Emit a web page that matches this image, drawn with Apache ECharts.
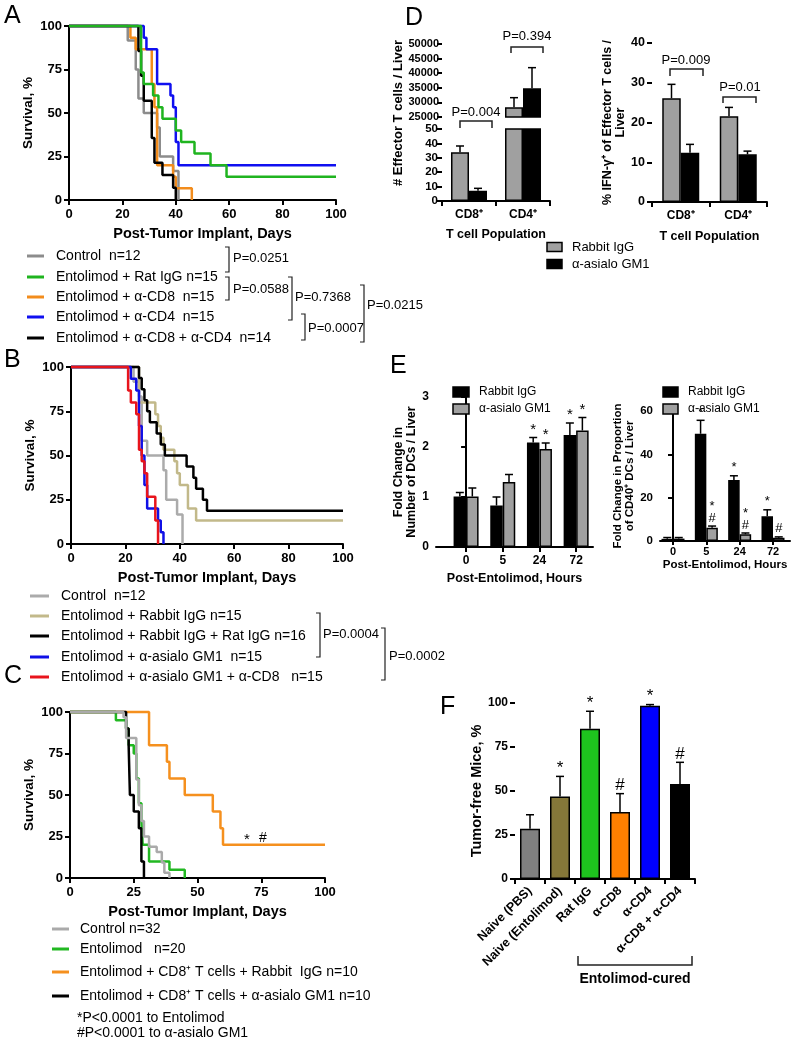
<!DOCTYPE html>
<html>
<head>
<meta charset="utf-8">
<script src="https://cdn.jsdelivr.net/npm/echarts@6/dist/echarts.min.js"></script>
<style>
  html, body { margin: 0; padding: 0; background: #fff; }
  #main { width: 792px; height: 1042px; }
</style>
</head>
<body>
<div id="main"></div>
<script>
// ---- data ----
// A: survival, step points [day, %]
var A_control = [[0,100],[22,91.7],[25,75],[26,58.3],[28,50],[33,41.7],[34,25],[39,16.7],[41,0]];
var A_ratIgG = [[0,100],[27,73.3],[28,66.7],[31.5,60],[33.5,53.3],[35,46.7],[40,40],[42,33.3],[47,26.7],[53,20],[59,13.3],[100,13.3]];
var A_cd8 = [[0,100],[23,93.3],[25,86.7],[31,66.7],[32,53.3],[33,20],[39,13.3],[40,6.7],[46,0]];
var A_cd4 = [[0,100],[28,93.3],[29,86.7],[33,66.7],[38,60],[39,53.3],[40,33.3],[41,20],[100,20]];
var A_cd8cd4 = [[0,100],[26,85.7],[27,71.4],[28,57.1],[31,35.7],[32,21.4],[35,14.3],[39,7.1],[40,0]];

// B
var B_control = [[0,100],[23,91.7],[25,83.3],[26,58.3],[28,50],[34,41.7],[35,25],[39,16.7],[41,0]];
var B_rabbit = [[0,100],[25,80],[31,73.3],[32,66.7],[33,60],[34,53.3],[38,46.7],[39,40],[40,33.3],[43,20],[46,13.3],[100,13.3]];
var B_rabbitRat = [[0,100],[25,93.75],[26,87.5],[27,81.25],[28,75],[29,68.75],[31.5,62.5],[33,56.25],[34.5,50],[42.5,43.75],[45,37.5],[46,31.25],[48.5,25],[50,18.75],[100,18.75]];
var B_asialo = [[0,100],[22,93.3],[24,86.7],[25,66.7],[26,50],[27,33.3],[28,20],[32,13.3],[33,6.7],[34,0]];
var B_asialoCd8 = [[0,100],[21,86.7],[22,80],[24,73.3],[25,53.3],[26,46.7],[27,40],[28,26.7],[31,13.3],[32,0]];

// C
var C_control = [[0,100],[21,96.9],[22,84.4],[26,59.4],[27,43.8],[28,34.4],[29,25],[31,18.8],[34,15.6],[36,9.4],[37,3.1],[39,0]];
var C_entolimod = [[0,100],[18,95],[22,90],[23,80],[25,75],[26,60],[27,45],[28,35],[28.5,20],[31,10],[39,5],[45,0]];
var C_rabbit = [[0,100],[31,80],[38,70],[39,60],[45,50],[56,40],[59,30],[60,20],[100,20]];
var C_asialo = [[0,100],[22,90],[23,80],[23.5,50],[25,40],[27,30],[28,10],[29,0]];

// D
var dCats = ['CD8⁺', 'CD4⁺'];
var dCountRabbit = [33.8, 28330];
var dCountRabbitErr = [38.2, 31620];
var dCountAsialo = [7.2, 34840];
var dCountAsialoErr = [8.8, 41900];
var dIfnRabbit = [26.1, 21.6];
var dIfnRabbitErr = [29.6, 23.8];
var dIfnAsialo = [12.4, 12.0];
var dIfnAsialoErr = [14.5, 12.8];

// E
var eCats = ['0', '5', '24', '72'];
var eDcRabbit = [1.01, 0.83, 2.09, 2.24];
var eDcRabbitErr = [1.09, 1.0, 2.19, 2.48];
var eDcAsialo = [1.01, 1.3, 1.96, 2.33];
var eDcAsialoErr = [1.18, 1.45, 2.08, 2.59];
var eDcRabbitMark = ['', '', '*', '*'];
var eDcAsialoMark = ['', '', '*', '*'];
var eCd40Rabbit = [1.0, 49.5, 28.1, 11.4];
var eCd40RabbitErr = [1.6, 55.7, 30.1, 14.4];
var eCd40Asialo = [1.1, 6.1, 3.1, 1.5];
var eCd40AsialoErr = [1.6, 6.9, 3.7, 1.9];
var eCd40RabbitMark = ['', '*', '*', '*'];
var eCd40AsialoMark = ['', '*\n#', '*\n#', '#'];

// F
var fCats = ['Naive (PBS)', 'Naive (Entolimod)', 'Rat IgG', 'α-CD8', 'α-CD4', 'α-CD8 + α-CD4'];
var fVals = [28.6, 46.9, 85.4, 38.1, 98.5, 54.0];
var fErr = [36.5, 58.3, 95.3, 48.5, 99.1, 66.3];
var fMark = ['', '*', '*', '#', '*', '#'];

// ---- styles ----
var FONT = 'Liberation Sans, Arial, sans-serif';
var fColors = ['#808080', '#857739', '#1ec41e', '#ff8000', '#0000ff', '#000000'];

var myChart = echarts.init(document.getElementById('main'), null, {renderer: 'canvas'});

function axLine() { return {lineStyle: {color: '#000', width: 2}}; }
function axTick(show) { return {show: show !== false, length: 5, lineStyle: {color: '#000', width: 2}}; }
function axLabel(fs, extra) {
    var o = {color: '#000', fontWeight: 'bold', fontSize: fs, fontFamily: FONT, margin: 8};
    for (var k in extra) o[k] = extra[k];
    return o;
}
function nameStyle(fs) { return {color: '#000', fontWeight: 'bold', fontSize: fs, fontFamily: FONT}; }

function survX(g, interval) {
    return {type: 'value', gridIndex: g, min: 0, max: 100, interval: interval,
        axisLine: axLine(), axisTick: axTick(), axisLabel: axLabel(13), splitLine: {show: false},
        name: 'Post-Tumor Implant, Days', nameLocation: 'middle', nameGap: 26, nameTextStyle: nameStyle(14.5)};
}
function survY(g) {
    return {type: 'value', gridIndex: g, min: 0, max: 100, interval: 25,
        axisLine: {show: true, lineStyle: {color: '#000', width: 2}}, axisTick: axTick(), axisLabel: axLabel(13, {margin: 7}),
        splitLine: {show: false},
        name: 'Survival, %', nameLocation: 'middle', nameGap: 34, nameTextStyle: nameStyle(13.5)};
}
function surv(g, data, color) {
    return {type: 'line', xAxisIndex: g, yAxisIndex: g, step: 'end', data: data, symbol: 'none',
        clip: false, lineStyle: {color: color, width: 2.5}, animation: false};
}
function bars(g, data, color, w) {
    return {type: 'bar', xAxisIndex: g, yAxisIndex: g, data: data, barWidth: w, barGap: '0%',
        itemStyle: {color: color, borderColor: '#000', borderWidth: 1.5}, animation: false};
}
function errBars(g, xs, vals, errs, offset, marks, markSize, clip) {
    var data = vals.map(function (v, i) { return [xs[i], v, errs[i]]; });
    return {type: 'custom', xAxisIndex: g, yAxisIndex: g, data: data, clip: !!clip, z: 5, animation: false,
        renderItem: function (params, api) {
            var p0 = api.coord([api.value(0), api.value(1)]);
            var p1 = api.coord([api.value(0), api.value(2)]);
            var cx = p0[0] + offset;
            var ch = [
                {type: 'line', shape: {x1: cx, y1: p0[1], x2: cx, y2: p1[1]}, style: {stroke: '#000', lineWidth: 1.5}},
                {type: 'line', shape: {x1: cx - 4, y1: p1[1], x2: cx + 4, y2: p1[1]}, style: {stroke: '#000', lineWidth: 1.5}}
            ];
            var m = marks ? marks[params.dataIndex] : '';
            if (m) {
                ch.push({type: 'text', x: cx, y: p1[1] - 2, style: {text: m, fill: '#000',
                    font: (markSize || 14) + 'px ' + FONT, align: 'center', verticalAlign: 'bottom',
                    textAlign: 'center', textVerticalAlign: 'bottom', lineHeight: 12}});
            }
            return {type: 'group', children: ch};
        }};
}

// ---- graphic helpers ----
function T(x, y, text, font, align, rot) {
    return {type: 'text', x: x, y: y, rotation: rot || 0, z: 10,
        style: {text: text, fill: '#000', font: font, align: align || 'left', verticalAlign: 'middle',
            textAlign: align || 'left', textVerticalAlign: 'middle'}};
}
function PL(points, w) {
    return {type: 'polyline', z: 10, shape: {points: points}, style: {stroke: '#222', lineWidth: w || 1.2, fill: null}};
}
function bracketR(x, y1, y2) { return PL([[x - 4, y1], [x, y1], [x, y2], [x - 4, y2]]); }
function bracketT(x1, x2, y, h) { return PL([[x1, y + h], [x1, y], [x2, y], [x2, y + h]], 1.5); }
function legendLines(x1, x2, tx, ys, colors, texts, fs) {
    var out = [];
    ys.forEach(function (y, i) {
        out.push({type: 'line', z: 10, shape: {x1: x1, y1: y, x2: x2, y2: y}, style: {stroke: colors[i], lineWidth: 3}});
        out.push(T(tx, y, texts[i], fs + 'px ' + FONT));
    });
    return out;
}
function legendBox(x, y, w, h, color, text, fs) {
    return [{type: 'rect', z: 10, shape: {x: x, y: y - h / 2, width: w, height: h},
        style: {fill: color, stroke: '#000', lineWidth: 1.5}},
        T(x + w + 10, y, text, fs + 'px ' + FONT)];
}

var colA = ['#8c8c8c', '#1fb41f', '#f28c1c', '#1010f0', '#000000'];
var colB = ['#ababab', '#c2b98a', '#000000', '#1010e6', '#e8141c'];
var colC = ['#aaaaaa', '#22b822', '#f5901e', '#000000'];

var g = [];
var big = '25px ' + FONT;
g.push(T(4, 16, 'A', big), T(4, 360, 'B', big), T(4, 676, 'C', big));
g.push(T(405, 18, 'D', big), T(390, 366, 'E', big), T(440, 707, 'F', big));

g = g.concat(legendLines(27, 44, 56, [256, 277, 297, 317, 338], colA,
    ['Control  n=12', 'Entolimod + Rat IgG n=15', 'Entolimod + α-CD8  n=15', 'Entolimod + α-CD4  n=15',
     'Entolimod + α-CD8 + α-CD4  n=14'], 14));
var pf = '13px ' + FONT;
g.push(bracketR(229, 247, 272), T(233, 258, 'P=0.0251', pf));
g.push(bracketR(229, 277, 300), T(233, 289, 'P=0.0588', pf));
g.push(bracketR(292, 277, 320), T(295, 297, 'P=0.7368', pf));
g.push(bracketR(305, 314, 340), T(308, 328, 'P=0.0007', pf));
g.push(bracketR(364, 285, 342), T(367, 305, 'P=0.0215', pf));

g = g.concat(legendLines(30, 49, 61, [596, 616, 636, 657, 677], colB,
    ['Control  n=12', 'Entolimod + Rabbit IgG n=15', 'Entolimod + Rabbit IgG + Rat IgG n=16',
     'Entolimod + α-asialo GM1  n=15', 'Entolimod + α-asialo GM1 + α-CD8   n=15'], 14));
g.push(bracketR(320, 613, 657), T(323, 634, 'P=0.0004', pf));
g.push(bracketR(385, 628, 680), T(389, 656, 'P=0.0002', pf));

g = g.concat(legendLines(52, 69, 80, [929, 949, 972, 996], colC,
    ['Control n=32', 'Entolimod   n=20', 'Entolimod + CD8⁺ T cells + Rabbit  IgG n=10',
     'Entolimod + CD8⁺ T cells + α-asialo GM1 n=10'], 14));
g.push(T(77, 1018, '*P<0.0001 to Entolimod', '14px ' + FONT));
g.push(T(77, 1033, '#P<0.0001 to α-asialo GM1', '14px ' + FONT));
g.push(T(247, 840, '*', '15px ' + FONT, 'center'), T(263, 838, '#', '14px ' + FONT, 'center'));

// D annotations
g.push(T(398, 113, '# Effector T cells / Liver', 'bold 13px ' + FONT, 'center', Math.PI / 2));
g.push(bracketT(460, 492, 121, 7), T(476, 112, 'P=0.004', pf, 'center'));
g.push(bracketT(511, 543, 47, 6), T(527, 36, 'P=0.394', pf, 'center'));
g.push(bracketT(670, 703, 69, 7), T(686, 60, 'P=0.009', pf, 'center'));
g.push(bracketT(723, 756, 97, 6), T(740, 87, 'P=0.01', pf, 'center'));
g.push(T(496, 235, 'T cell Population', 'bold 12.5px ' + FONT, 'center'));
g = g.concat(legendBox(547, 247, 15, 9, '#a0a0a0', 'Rabbit IgG', 13));
g = g.concat(legendBox(547, 264, 15, 9, '#000000', 'α-asialo GM1', 13));

// E legends
g = g.concat(legendBox(453, 392, 16, 10, '#000000', 'Rabbit IgG', 12));
g = g.concat(legendBox(453, 409, 16, 10, '#a0a0a0', 'α-asialo GM1', 12));
g = g.concat(legendBox(663, 392, 15, 10, '#000000', 'Rabbit IgG', 12));
g = g.concat(legendBox(663, 409, 15, 10, '#a0a0a0', 'α-asialo GM1', 12));

// F bracket
g.push(PL([[578, 956], [578, 965], [692, 965], [692, 956]], 1.5));
g.push(T(635, 979, 'Entolimod-cured', 'bold 14px ' + FONT, 'center'));

function plain(v) { return String(v); }

var xAxes = [
    survX(0, 20), survX(1, 20), survX(2, 25),
    {type: 'category', gridIndex: 3, data: dCats, show: false},
    {type: 'category', gridIndex: 4, data: dCats, axisLine: axLine(), axisTick: axTick(),
        axisLabel: axLabel(12, {margin: 8})},
    {type: 'category', gridIndex: 5, data: dCats, axisLine: axLine(), axisTick: axTick(),
        axisLabel: axLabel(12, {margin: 8}),
        name: 'T cell Population', nameLocation: 'middle', nameGap: 28, nameTextStyle: nameStyle(12.5)},
    {type: 'value', gridIndex: 6, min: -0.82, max: 3.46, axisLine: axLine(), splitLine: {show: false},
        axisTick: {length: 5, lineStyle: {color: '#000', width: 2}, customValues: [0, 1, 2, 3]},
        axisLabel: axLabel(12, {customValues: [0, 1, 2, 3], formatter: function (v) { return eCats[Math.round(v)]; }}),
        name: 'Post-Entolimod, Hours', nameLocation: 'middle', nameGap: 25, nameTextStyle: nameStyle(12.5)},
    {type: 'value', gridIndex: 7, min: -0.39, max: 3.51, axisLine: axLine(), splitLine: {show: false},
        axisTick: {length: 4, lineStyle: {color: '#000', width: 2}, customValues: [0, 1, 2, 3]},
        axisLabel: axLabel(11, {margin: 5, customValues: [0, 1, 2, 3], formatter: function (v) { return eCats[Math.round(v)]; }}),
        name: 'Post-Entolimod, Hours', nameLocation: 'middle', nameGap: 18, nameTextStyle: nameStyle(11.5)},
    {type: 'category', gridIndex: 8, data: fCats, axisLine: axLine(), axisTick: axTick(),
        axisLabel: axLabel(12.5, {rotate: 45, margin: 10, interval: 0})}
];
var yAxes = [
    survY(0), survY(1), survY(2),
    {type: 'value', gridIndex: 3, min: 25000, max: 50000, interval: 5000, axisLine: axLine(), axisTick: axTick(),
        axisLabel: axLabel(11, {margin: 3, formatter: plain}), splitLine: {show: false}},
    {type: 'value', gridIndex: 4, min: 0, max: 50, interval: 10, axisLine: axLine(), axisTick: axTick(),
        axisLabel: axLabel(11.5, {margin: 4}), splitLine: {show: false}},
    {type: 'value', gridIndex: 5, min: 0, max: 40, interval: 10, axisLine: axLine(), axisTick: axTick(),
        axisLabel: axLabel(12.5, {margin: 7}), splitLine: {show: false},
        name: '% IFN-γ⁺ of Effector T cells /\nLiver', nameLocation: 'middle', nameGap: 23,
        nameTextStyle: nameStyle(12.5)},
    {type: 'value', gridIndex: 6, min: 0, max: 3, interval: 1, axisLine: axLine(), axisTick: axTick(),
        axisLabel: axLabel(12, {margin: 7}), splitLine: {show: false},
        name: 'Fold Change in\nNumber of DCs / Liver', nameLocation: 'middle', nameGap: 14,
        nameTextStyle: nameStyle(12.5)},
    {type: 'value', gridIndex: 7, min: 0, max: 60, interval: 20, axisLine: axLine(), axisTick: axTick(),
        axisLabel: axLabel(11.5, {margin: 7}), splitLine: {show: false},
        name: 'Fold Change in Proportion\nof CD40⁺ DCs / Liver', nameLocation: 'middle', nameGap: 24,
        nameTextStyle: nameStyle(11.5)},
    {type: 'value', gridIndex: 8, min: 0, max: 100, interval: 25, axisLine: axLine(), axisTick: axTick(),
        axisLabel: axLabel(12, {margin: 7}), splitLine: {show: false},
        name: 'Tumor-free Mice, %', nameLocation: 'middle', nameGap: 30, nameTextStyle: nameStyle(14.5)}
];

var idx = [0, 1, 2, 3];
var series = [
    surv(0, A_control, colA[0]), surv(0, A_cd8, colA[2]), surv(0, A_cd4, colA[3]), surv(0, A_cd8cd4, colA[4]),
    surv(0, A_ratIgG, colA[1]),
    surv(1, B_control, colB[0]), surv(1, B_rabbit, colB[1]), surv(1, B_rabbitRat, colB[2]), surv(1, B_asialo, colB[3]),
    surv(1, B_asialoCd8, colB[4]),
    surv(2, C_rabbit, colC[2]), surv(2, C_entolimod, colC[1]), surv(2, C_asialo, colC[3]), surv(2, C_control, colC[0]),
    // D left, broken axis drawn as two grids
    bars(3, dCountRabbit, '#a0a0a0', 18), bars(3, dCountAsialo, '#000000', 18),
    errBars(3, [0, 1], dCountRabbit, dCountRabbitErr, -9, null, 0, true),
    errBars(3, [0, 1], dCountAsialo, dCountAsialoErr, 9, null, 0, true),
    bars(4, dCountRabbit, '#a0a0a0', 18), bars(4, dCountAsialo, '#000000', 18),
    errBars(4, [0, 1], dCountRabbit, dCountRabbitErr, -9, null, 0, true),
    errBars(4, [0, 1], dCountAsialo, dCountAsialoErr, 9, null, 0, true),
    // D right
    bars(5, dIfnRabbit, '#a0a0a0', 18.5), bars(5, dIfnAsialo, '#000000', 18.5),
    errBars(5, [0, 1], dIfnRabbit, dIfnRabbitErr, -9.25), errBars(5, [0, 1], dIfnAsialo, dIfnAsialoErr, 9.25),
    // E left
    bars(6, eDcRabbit.map(function (v, i) { return [i, v]; }), '#000000', 12.5),
    bars(6, eDcAsialo.map(function (v, i) { return [i, v]; }), '#a0a0a0', 12.5),
    errBars(6, idx, eDcRabbit, eDcRabbitErr, -6.25, eDcRabbitMark, 15),
    errBars(6, idx, eDcAsialo, eDcAsialoErr, 6.25, eDcAsialoMark, 15),
    // E right
    bars(7, eCd40Rabbit.map(function (v, i) { return [i, v]; }), '#000000', 11.5),
    bars(7, eCd40Asialo.map(function (v, i) { return [i, v]; }), '#a0a0a0', 11.5),
    errBars(7, idx, eCd40Rabbit, eCd40RabbitErr, -5.75, eCd40RabbitMark, 13),
    errBars(7, idx, eCd40Asialo, eCd40AsialoErr, 5.75, eCd40AsialoMark, 13),
    // F
    {type: 'bar', xAxisIndex: 8, yAxisIndex: 8, barWidth: 20, animation: false,
        data: fVals.map(function (v, i) { return {value: v, itemStyle: {color: fColors[i]}}; }),
        itemStyle: {borderColor: '#000', borderWidth: 1.5}},
    errBars(8, [0, 1, 2, 3, 4, 5], fVals, fErr, 0, fMark, 17)
];

var option = {
    backgroundColor: '#fff',
    animation: false,
    textStyle: {fontFamily: FONT},
    grid: [
        {left: 69, top: 26, width: 267, height: 174},
        {left: 71, top: 367, width: 272, height: 177},
        {left: 70, top: 712, width: 255, height: 166},
        {left: 442, top: 44, width: 108, height: 73},
        {left: 442, top: 129, width: 108, height: 72},
        {left: 652, top: 43, width: 115, height: 159},
        {left: 436, top: 397, width: 157, height: 150},
        {left: 660, top: 411, width: 130, height: 130},
        {left: 515, top: 703, width: 180, height: 176}
    ],
    xAxis: xAxes,
    yAxis: yAxes,
    series: series,
    graphic: g
};
myChart.setOption(option);
</script>
</body>
</html>
